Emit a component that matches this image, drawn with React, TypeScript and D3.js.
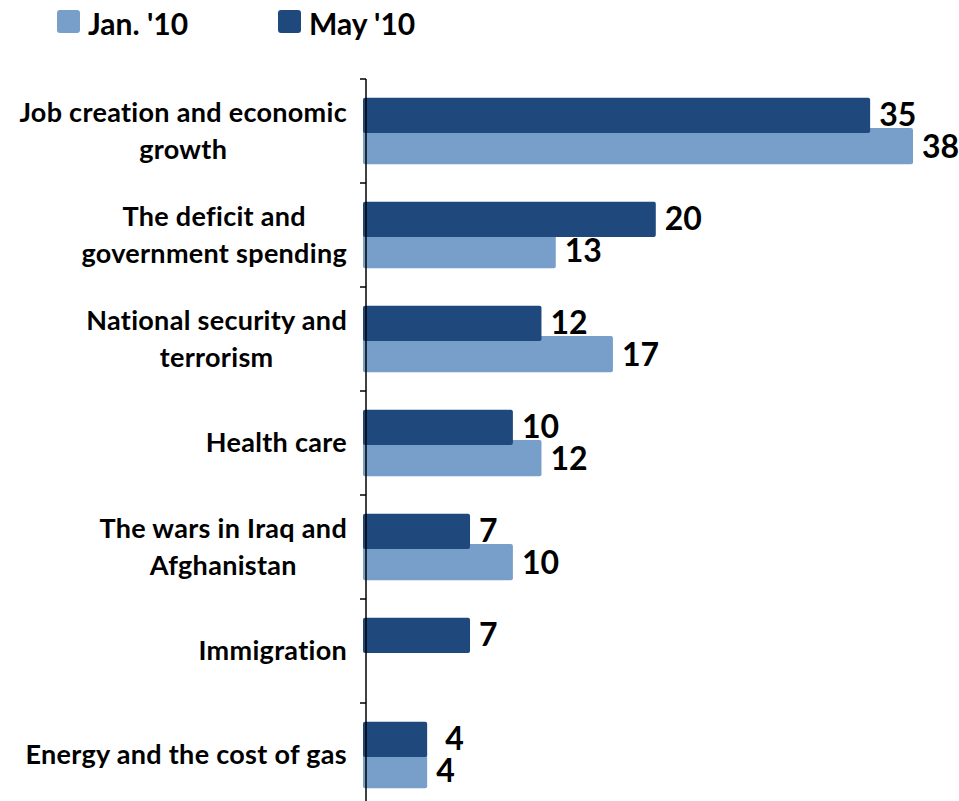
import React, { useEffect, useRef } from "react";
import * as d3 from "d3";

const categories = [
  "Job creation and economic growth",
  "The deficit and government spending",
  "National security and terrorism",
  "Health care",
  "The wars in Iraq and Afghanistan",
  "Immigration",
  "Energy and the cost of gas",
];
const categoryLines = [
  ["Job creation and economic", "growth"],
  ["The deficit and", "government spending"],
  ["National security and", "terrorism"],
  ["Health care"],
  ["The wars in Iraq and", "Afghanistan"],
  ["Immigration"],
  ["Energy and the cost of gas"],
];
const janValues: (number | null)[] = [38, 13, 17, 12, 10, null, 4];
const mayValues: (number | null)[] = [35, 20, 12, 10, 7, 7, 4];
const seriesNames = ["Jan. '10", "May '10"];

const W = 959;
const H = 801;
const LIGHT = "#789ECA";
const DARK = "#1F497D";
const FONT = "Lato, 'Open Sans', sans-serif";

export default function App() {
  const ref = useRef<SVGSVGElement>(null);
  useEffect(() => {
    const svg = d3.select(ref.current);
    svg.selectAll("*").remove();

    const x = d3.scaleLinear().domain([0, 38]).range([370, 913]);
    const y = d3.scaleBand<string>().domain(categories).range([79, 807]).paddingInner(0).paddingOuter(0);
    const bw = y.bandwidth();
    const axisX = 366;

    const valueLabel = (g: any, v: number, xx: number, yy: number) => {
      g.append("text")
        .attr("x", xx)
        .attr("y", yy)
        .attr("font-family", FONT)
        .attr("font-weight", 700)
        .attr("font-size", 32)
        .attr("fill", "#000")
        .text(String(v));
    };

    // bars
    const g = svg.append("g");
    categories.forEach((c, i) => {
      const y0 = y(c)!;
      const jv = janValues[i];
      const mv = mayValues[i];
      const janTop = y0 + 0.47 * bw;
      const janH = 0.35 * bw;
      const mayTop = y0 + 0.18 * bw;
      const mayH = 0.34 * bw;
      const small = (mv ?? 0) < 5;
      if (jv != null) {
        g.append("rect")
          .attr("x", x(0) - 7)
          .attr("y", janTop)
          .attr("width", x(jv) - x(0) + 7)
          .attr("height", janH)
          .attr("rx", 2)
          .attr("fill", LIGHT);
      }
      if (mv != null) {
        g.append("rect")
          .attr("x", x(0) - 7)
          .attr("y", mayTop)
          .attr("width", x(mv) - x(0) + 7)
          .attr("height", mayH)
          .attr("rx", 2)
          .attr("fill", DARK);
      }
      if (jv != null) valueLabel(g, jv, x(jv) + 9, janTop + janH / 2 + 12);
      if (mv != null) valueLabel(g, mv, x(mv) + (small ? 18 : 9), mayTop + mayH / 2 + 11);
    });

    // axis
    svg.append("line")
      .attr("x1", axisX).attr("x2", axisX)
      .attr("y1", 79).attr("y2", H)
      .attr("stroke", "#000").attr("stroke-width", 1.5);
    const tickYs = categories.map((c) => y(c)!).concat([y.range()[1]]);
    svg.selectAll("line.tick")
      .data(tickYs)
      .enter()
      .append("line")
      .attr("class", "tick")
      .attr("x1", axisX - 6).attr("x2", axisX)
      .attr("y1", (d) => d).attr("y2", (d) => d)
      .attr("stroke", "#000").attr("stroke-width", 1.5);

    // category labels
    const rightEdge = 347;
    const lineH = 37;
    categories.forEach((c, i) => {
      const lines = categoryLines[i];
      const cy = y(c)! + bw / 2;
      const tg = svg.append("g");
      const t = tg.append("text")
        .attr("font-family", FONT)
        .attr("font-weight", 700)
        .attr("font-size", 27)
        .attr("letter-spacing", 0.3)
        .attr("text-anchor", "middle")
        .attr("fill", "#000");
      const n = lines.length;
      lines.forEach((ln, k) => {
        t.append("tspan")
          .attr("x", 0)
          .attr("y", cy + (k - (n - 1) / 2) * lineH + 9)
          .text(ln);
      });
      const bb = (t.node() as SVGTextElement).getBBox();
      tg.attr("transform", `translate(${rightEdge - bb.width / 2},0)`);
    });

    // legend
    const legX = [57, 278];
    const legColors = [LIGHT, DARK];
    seriesNames.forEach((s, i) => {
      svg.append("rect")
        .attr("x", legX[i]).attr("y", 10)
        .attr("width", 23).attr("height", 23)
        .attr("rx", 3)
        .attr("fill", legColors[i]);
      svg.append("text")
        .attr("x", legX[i] + 31).attr("y", 35)
        .attr("font-family", FONT)
        .attr("font-weight", 700)
        .attr("font-size", 30)
        .attr("fill", "#000")
        .text(s);
    });
  }, []);

  return (
    <svg
      ref={ref}
      width={W}
      height={H}
      style={{ position: "absolute", left: 0, top: 0, background: "#fff" }}
    />
  );
}
